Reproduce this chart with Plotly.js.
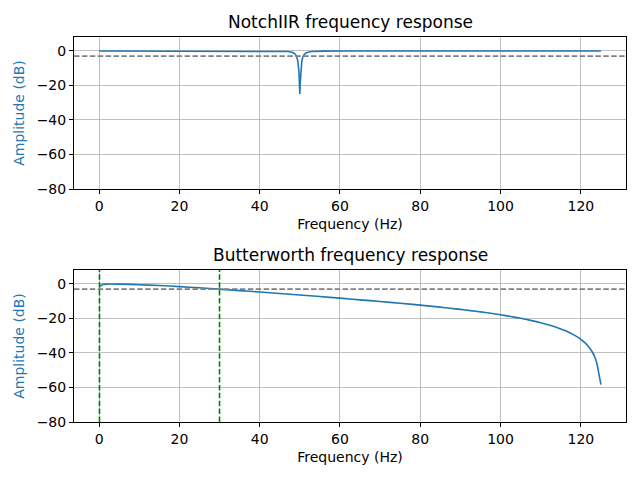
<!DOCTYPE html>
<html>
<head>
<meta charset="utf-8">
<script src="https://cdn.plot.ly/plotly-3.0.1.min.js"></script>
<style>
  html, body { margin: 0; padding: 0; background: #fff; }
  #plot { width: 640px; height: 480px; }
</style>
</head>
<body>
<div id="plot"></div>
<script>
// Notch filter magnitude response (dB), 50 Hz notch, fs = 250 Hz
const notchFreq = [0, 10, 20, 30, 40, 44, 46, 47, 48, 48.5, 49, 49.25, 49.5, 49.7, 49.8, 49.9, 49.95,
                   50, 50.05, 50.1, 50.2, 50.3, 50.5, 50.75, 51, 51.5, 52, 53, 54, 56, 60, 70, 80, 90, 100, 110, 125];
const notchDb   = [0, -0.01, -0.02, -0.03, -0.06, -0.12, -0.2, -0.32, -0.7, -1.17, -2.29, -3.5, -5.77, -9.4, -12.6, -18.5, -22,
                   -24.9, -22, -18.5, -12.6, -9.4, -5.77, -3.5, -2.29, -1.17, -0.7, -0.32, -0.18, -0.09, -0.03, -0.01, -0.01, 0, 0, 0, 0];

// Butterworth magnitude response (dB)
const buttFreq = [0.3, 0.8, 2, 5, 10, 15, 20, 25, 30, 35, 40, 45, 50, 55, 60, 65, 70, 75, 80, 82.5, 85, 87.5, 90, 92.5, 95,
                  97.5, 100, 102.5, 105, 107.5, 110, 112.5, 115, 116.5, 118, 119, 120, 121, 122, 123, 123.5, 124, 124.5, 125];
const buttDb   = [-1.5, -0.3, -0.06, -0.11, -0.42, -0.91, -1.53, -2.23, -3.01, -3.83, -4.67, -5.53, -6.40, -7.30,
                  -8.21, -9.21, -10.14, -11.17, -12.26, -12.84, -13.43, -14.08, -14.74, -15.45, -16.16,
                  -17.01, -17.88, -18.86, -19.91, -21.10, -22.46, -24.07, -26.07, -27.46, -29.2, -30.49, -32.1,
                  -34.03, -36.5, -40.0, -42.5, -46.1, -52.1, -58.3];

// Passband edges (Hz) and reference level (dB)
const cutoffs = [0.1, 30];
const refLevel = -3;

const xTicks = [0, 20, 40, 60, 80, 100, 120];
const yTicks = [0, -20, -40, -60, -80];

const blue = '#1f77b4';
const font = 'DejaVu Sans, sans-serif';

const traces = [
  { x: notchFreq, y: notchDb, type: 'scatter', mode: 'lines', xaxis: 'x', yaxis: 'y',
    line: { color: blue, width: 1.6 }, hoverinfo: 'skip' },
  { x: buttFreq, y: buttDb, type: 'scatter', mode: 'lines', xaxis: 'x2', yaxis: 'y2',
    line: { color: blue, width: 1.6, shape: 'spline', smoothing: 0.6 }, hoverinfo: 'skip' }
];

function xAxis(anchor) {
  return {
    anchor: anchor, domain: [0, 1], range: [-6.25, 131.25],
    tickvals: xTicks, ticktext: xTicks.map(String),
    showgrid: true, gridcolor: '#b0b0b0', gridwidth: 0.8,
    zeroline: false, showline: true, mirror: true, linecolor: '#000', linewidth: 1,
    ticks: 'outside', ticklen: 4, tickwidth: 1, tickcolor: '#000',
    tickfont: { family: font, size: 14, color: '#000' },
    title: { text: 'Frequency (Hz)', font: { family: font, size: 14, color: '#000' }, standoff: 6 }
  };
}
function yAxis(anchor, domain) {
  return {
    anchor: anchor, domain: domain, range: [-80, 8.1],
    tickvals: yTicks, ticktext: yTicks.map(v => v < 0 ? '\u2212' + Math.abs(v) : String(v)),
    showgrid: true, gridcolor: '#b0b0b0', gridwidth: 0.8,
    zeroline: false, showline: true, mirror: true, linecolor: '#000', linewidth: 1,
    ticks: 'outside', ticklen: 4, tickwidth: 1, tickcolor: '#000',
    tickfont: { family: font, size: 14, color: '#000' },
    title: { text: 'Amplitude (dB)', font: { family: font, size: 14, color: blue }, standoff: 8 }
  };
}

const dash = '5.5px,2.4px';
const shapes = [
  { type: 'line', xref: 'x domain', yref: 'y', x0: 0, x1: 1, y0: refLevel, y1: refLevel,
    line: { color: 'gray', width: 1.6, dash: dash } },
  { type: 'line', xref: 'x2 domain', yref: 'y2', x0: 0, x1: 1, y0: refLevel, y1: refLevel,
    line: { color: 'gray', width: 1.6, dash: dash } }
].concat(cutoffs.map(f => ({
  type: 'line', xref: 'x2', yref: 'y2 domain', x0: f, x1: f, y0: 0, y1: 1,
  line: { color: 'green', width: 1.6, dash: dash }
})));

const annotations = [
  { text: 'NotchIIR frequency response', xref: 'paper', yref: 'paper', x: 0.5, y: 1,
    xanchor: 'center', yanchor: 'bottom', yshift: 3, showarrow: false,
    font: { family: font, size: 17, color: '#000' } },
  { text: 'Butterworth frequency response', xref: 'paper', yref: 'paper', x: 0.5, y: 0.3948,
    xanchor: 'center', yanchor: 'bottom', yshift: 3, showarrow: false,
    font: { family: font, size: 17, color: '#000' } }
];

const layout = {
  width: 640, height: 480,
  margin: { l: 73.5, r: 14, t: 37, b: 58 },
  paper_bgcolor: '#fff', plot_bgcolor: '#fff',
  showlegend: false,
  xaxis: xAxis('y'),
  yaxis: yAxis('x', [0.6052, 1]),
  xaxis2: xAxis('y2'),
  yaxis2: yAxis('x2', [0, 0.3948]),
  shapes: shapes,
  annotations: annotations
};

Plotly.newPlot('plot', traces, layout, { staticPlot: true, displayModeBar: false });
</script>
</body>
</html>
